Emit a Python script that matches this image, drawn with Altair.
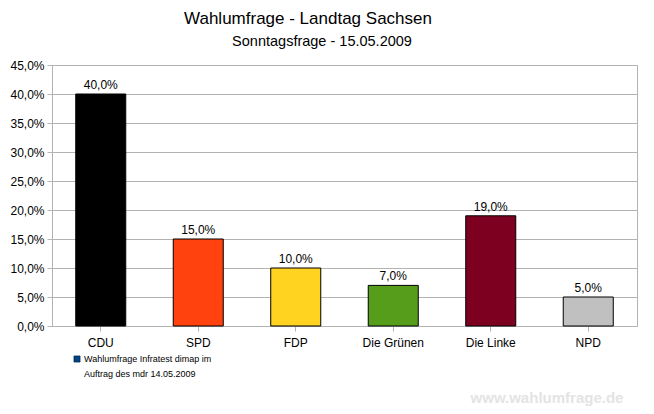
import altair as alt
import pandas as pd

parties = ["CDU", "SPD", "FDP", "Die Grünen", "Die Linke", "NPD"]
values = [40.0, 15.0, 10.0, 7.0, 19.0, 5.0]
colors = ["#000000", "#ff420e", "#ffd320", "#579d1c", "#7e0021", "#c0c0c0"]
y_ticks = [0, 5, 10, 15, 20, 25, 30, 35, 40, 45]

title_text = "Wahlumfrage - Landtag Sachsen"
subtitle_text = "Sonntagsfrage - 15.05.2009"
legend_lines = ["Wahlumfrage Infratest dimap im", "Auftrag des mdr 14.05.2009"]
watermark = "www.wahlumfrage.de"

FONT = "Liberation Sans"
GRAY = "#b3b3b3"

df = pd.DataFrame({"party": parties, "value": values, "color": colors})
fmt = "replace(format(datum.value, '.1f'), '.', ',') + '%'"

base = alt.Chart(df).transform_calculate(label=fmt)

x = alt.X(
    "party:N", sort=parties, title=None,
    scale=alt.Scale(paddingInner=0.487, paddingOuter=0.2435),
    axis=alt.Axis(labelAngle=0, labelFont=FONT, labelFontSize=12, labelColor="#000000",
                  domainColor=GRAY, tickColor=GRAY, tickSize=5, labelPadding=6, grid=False),
)
y = alt.Y(
    "value:Q", title=None,
    scale=alt.Scale(domain=[0, 45], nice=False),
    axis=alt.Axis(values=y_ticks, labelExpr=fmt, labelFont=FONT, labelFontSize=12,
                  labelColor="#000000", gridColor=GRAY, domainColor=GRAY, tickColor=GRAY,
                  tickSize=5, labelPadding=3, labelOverlap=False, labelBound=False,
                  labelFlush=False),
)

bars = base.mark_bar(stroke="#000000", strokeWidth=1).encode(
    x=x, y=y, color=alt.Color("color:N", scale=None)
)
labels = base.mark_text(baseline="bottom", dy=-2, font=FONT, fontSize=12, color="#000000").encode(
    x=x, y=y, text="label:N"
)

def txt(t, xv, yv, size, align="center", baseline="alphabetic", color="#000000", weight="normal"):
    return alt.Chart(pd.DataFrame({"t": [t]})).mark_text(
        align=align, baseline=baseline, font=FONT, fontSize=size, color=color, fontWeight=weight
    ).encode(text="t:N", x=alt.value(xv), y=alt.value(yv))

title = txt(title_text, 256, -41, 17)
subtitle = txt(subtitle_text, 270, -19, 14.5)
leg1 = txt(legend_lines[0], 32, 294, 9, align="left", baseline="middle")
leg2 = txt(legend_lines[1], 32, 309, 9, align="left", baseline="middle")
wm = txt(watermark, 495, 333, 15, baseline="middle", color="#e4e4e4", weight="bold")

legend_sq = alt.Chart(pd.DataFrame({"k": [0]})).mark_rect(
    color="#004586", stroke="#002a50", strokeWidth=0.8
).encode(x=alt.value(22), x2=alt.value(28), y=alt.value(291), y2=alt.value(297))

chart = alt.layer(bars, labels, title, subtitle, leg1, leg2, wm, legend_sq).properties(
    width=585, height=261,
    autosize=alt.AutoSizeParams(type="none"),
    padding={"left": 44, "top": 57, "right": 9, "bottom": 80},
    background="#ffffff",
).configure_view(stroke=GRAY)

chart.save("out.html", embed_options={"renderer": "svg", "actions": False})
